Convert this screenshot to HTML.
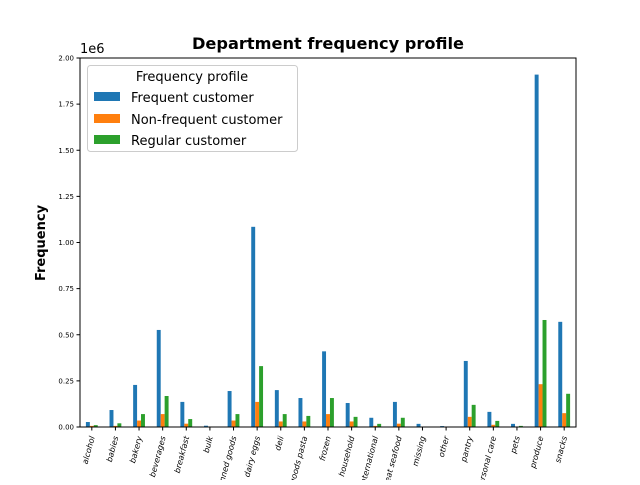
<!DOCTYPE html>
<html><head><meta charset="utf-8"><style>
body{margin:0;background:#fff}
text{font-family:"DejaVu Sans","Liberation Sans",sans-serif}
</style></head><body>
<svg id="chart" width="640" height="480" xmlns="http://www.w3.org/2000/svg">
<text x="328" y="49" text-anchor="middle" font-size="16.2" font-weight="bold">Department frequency profile</text>
<text x="80" y="53" font-size="13">1e6</text>
<text transform="translate(45,243) rotate(-90)" text-anchor="middle" font-size="13" font-weight="bold">Frequency</text>
<g id="marks"></g>
<rect x="80" y="58" width="496" height="369" fill="none" stroke="#000" stroke-width="1"/>
<g>
<rect x="87.5" y="65.5" width="210" height="86" rx="3" fill="#fff" fill-opacity="0.8" stroke="#ccc"/>
<text x="192" y="81" text-anchor="middle" font-size="13">Frequency profile</text>
<rect x="94" y="92" width="26" height="9" fill="#1f77b4"/>
<text x="131" y="102" font-size="13">Frequent customer</text>
<rect x="94" y="114" width="26" height="9" fill="#ff7f0e"/>
<text x="131" y="124" font-size="13">Non-frequent customer</text>
<rect x="94" y="135" width="26" height="9" fill="#2ca02c"/>
<text x="131" y="145" font-size="13">Regular customer</text>
</g>
</svg>
<script>
const categories=["alcohol","babies","bakery","beverages","breakfast","bulk","canned goods","dairy eggs","deli","dry goods pasta","frozen","household","international","meat seafood","missing","other","pantry","personal care","pets","produce","snacks"];
const frequent=[0.027,0.092,0.228,0.526,0.136,0.007,0.195,1.085,0.2,0.157,0.41,0.13,0.05,0.136,0.017,0.005,0.358,0.082,0.017,1.91,0.57];
const nonFrequent=[0.006,0.006,0.035,0.07,0.018,0.001,0.035,0.136,0.03,0.03,0.07,0.03,0.006,0.018,0.001,0.001,0.055,0.012,0.001,0.232,0.075];
const regular=[0.01,0.02,0.07,0.168,0.043,0.002,0.07,0.33,0.07,0.06,0.157,0.055,0.017,0.05,0.002,0.001,0.12,0.033,0.006,0.58,0.18];
const yTicks=[0,0.25,0.5,0.75,1.0,1.25,1.5,1.75,2.0];
const NS="http://www.w3.org/2000/svg";
const X0=80,W=496,Y0=427,Y1=58,YMAX=2.0;
const step=W/categories.length;
function xc(i){return X0+step*(i+0.5);}
function y(v){return Y0-(v/YMAX)*(Y0-Y1);}
const g=document.getElementById('marks');
function mk(tag,attrs){const e=document.createElementNS(NS,tag);for(const k in attrs)e.setAttribute(k,attrs[k]);g.appendChild(e);return e;}
const series=[[frequent,"#1f77b4","frequent"],[nonFrequent,"#ff7f0e","non-frequent"],[regular,"#2ca02c","regular"]];
const bw=step*0.5/3;
series.forEach((s,si)=>{
  s[0].forEach((v,i)=>{
    const x=xc(i)-step*0.25+si*bw;
    const r=mk('rect',{x:x,y:y(v),width:bw,height:Y0-y(v),fill:s[1]});
    
    
  });
});
yTicks.forEach(t=>{
  const l=mk('line',{x1:X0-3.5,x2:X0,y1:y(t),y2:y(t),stroke:'#000'});
  
  
  const tx=mk('text',{x:X0-6,y:y(t)+2.5,'text-anchor':'end','font-size':'7'});
  tx.textContent=t.toFixed(2);
  
  
});
categories.forEach((c,i)=>{
  const l=mk('line',{x1:xc(i),x2:xc(i),y1:Y0,y2:Y0+3.5,stroke:'#000'});
  
  
  const tx=mk('text',{transform:`translate(${xc(i)+3},${Y0+10}) rotate(-75)`,'text-anchor':'end','font-size':'8','font-style':'italic'});
  tx.textContent=c;
  
  
});
</script>
</body></html>
